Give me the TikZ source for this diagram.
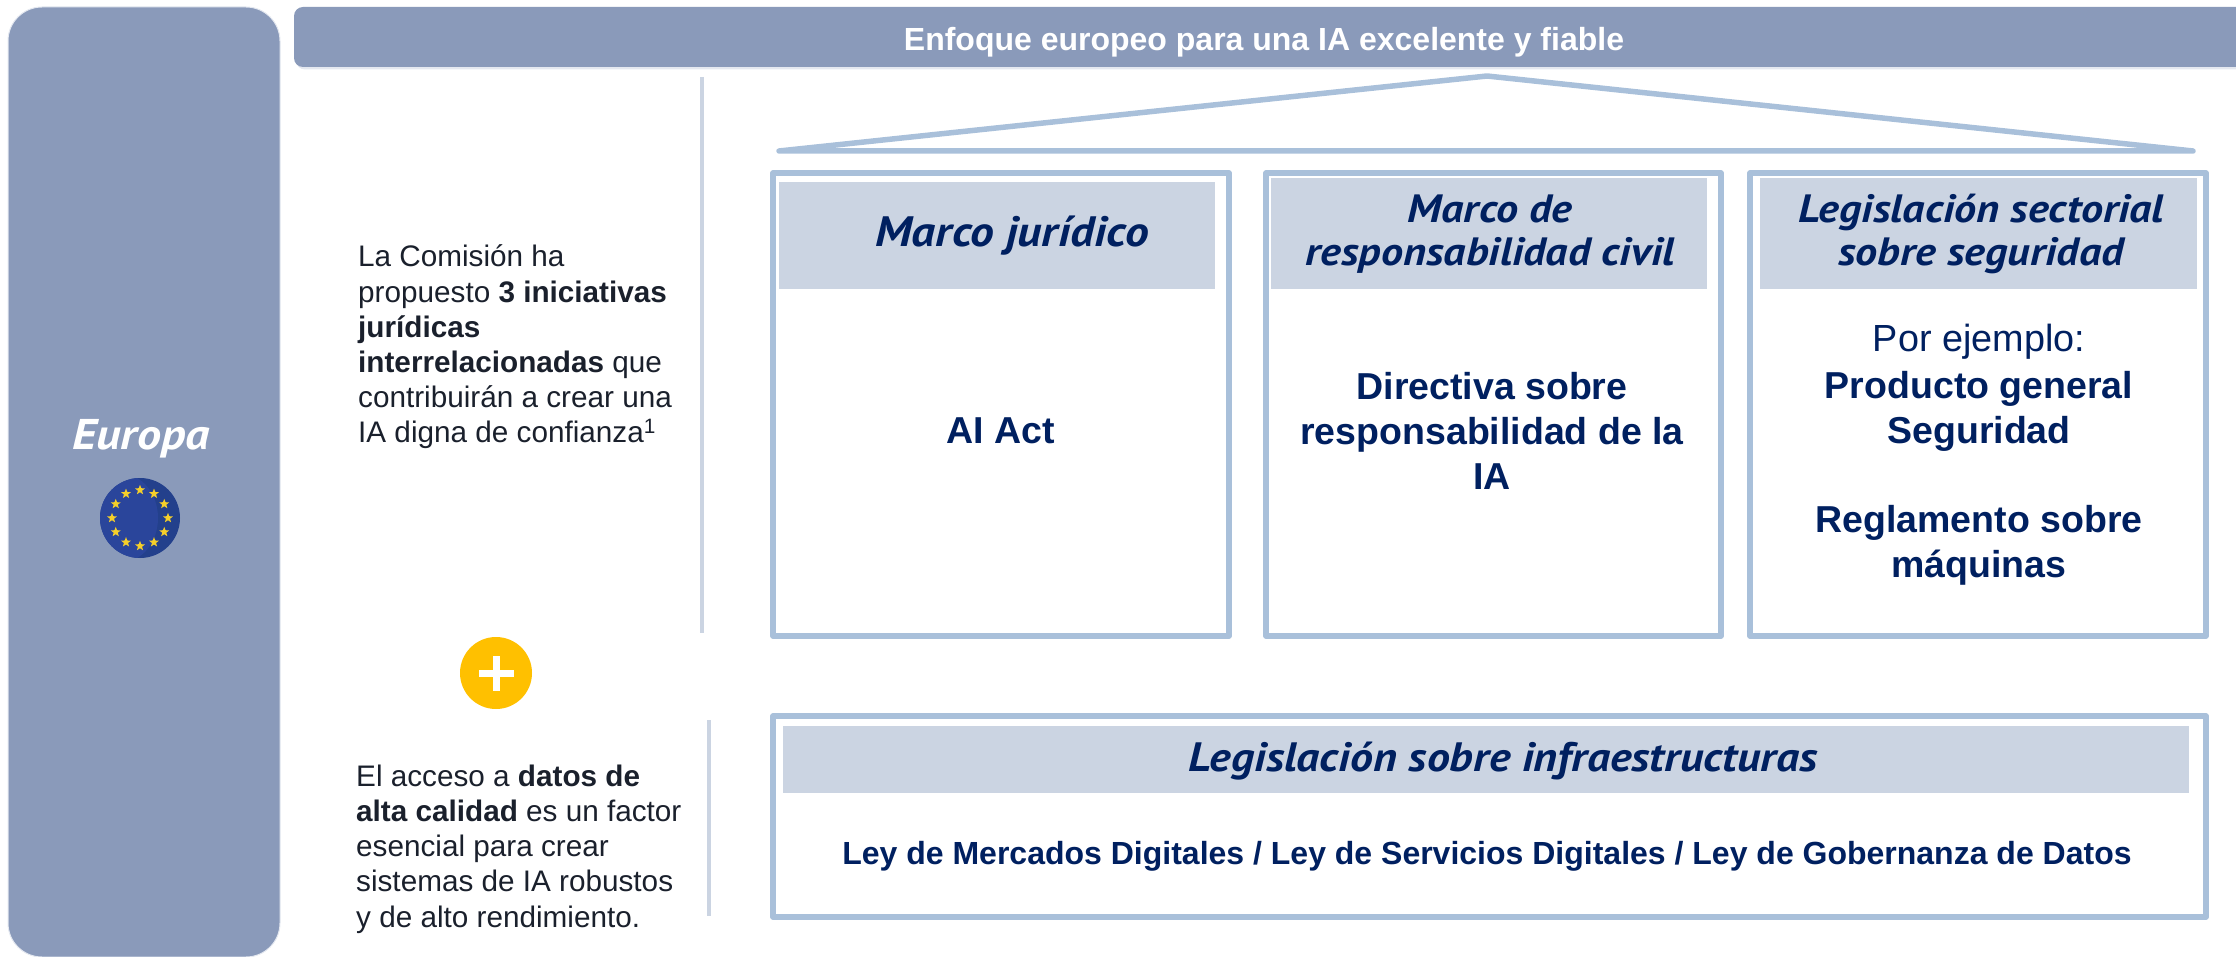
\documentclass[tikz,border=0pt]{standalone}
\usepackage{fontspec}
\setmainfont{Liberation Sans}
\newfontfamily\handfont[FakeStretch=1.12]{PT Sans}
\usetikzlibrary{shapes.geometric}
\definecolor{panel}{HTML}{8A9ABA}
\definecolor{panelEdge}{HTML}{E4E8F0}
\definecolor{boxline}{HTML}{A9C0DA}
\definecolor{headfill}{HTML}{CBD4E2}
\definecolor{navy}{HTML}{002060}
\definecolor{bodyink}{HTML}{1A202C}
\definecolor{plusyellow}{HTML}{FFC000}
\definecolor{flagdark}{HTML}{23408C}
\definecolor{flaglight}{HTML}{2A459B}
\definecolor{starcol}{HTML}{F5CF2A}
\tikzset{
  framebox/.style={draw=boxline,line width=5.5pt,line join=round,fill=white},
  headbox/.style={fill=headfill},
  vrule/.style={draw=headfill,line width=4.5pt},
  hand/.style={font=\fontsize{39.5}{43}\selectfont\handfont\bfseries\itshape,text=navy,align=center,inner sep=0pt},
  handbig/.style={hand,font=\fontsize{41}{43}\selectfont\handfont\bfseries\itshape},
  handbigger/.style={hand,font=\fontsize{42.5}{43}\selectfont\handfont\bfseries\itshape},
  mainbold/.style={font=\fontsize{37.5}{45}\selectfont\bfseries,text=navy,align=center,inner sep=0pt},
  bodytxt/.style={font=\fontsize{29.7}{35.2}\selectfont,text=bodyink,align=left,inner sep=0pt,anchor=west},
  euro/.style={star,star points=5,star point ratio=2.4,fill=starcol,inner sep=0pt,minimum size=10.5pt}
}
\begin{document}
\begin{tikzpicture}[x=1pt,y=-1pt]
\useasboundingbox (0,0) rectangle (2236,957);
% left panel
\draw[draw=panelEdge,line width=1pt,fill=panel,rounded corners=34pt] (8,7) rectangle (280,957);
\node[font=\fontsize{43}{50}\selectfont\handfont\bfseries\itshape,text=white,inner sep=0pt] (europa) at (141,439) {Europa};
% flag
\fill[flagdark] (140,518) circle (40);
\begin{scope}
  \clip (140,518) circle (40);
  \fill[flaglight] (122,518) circle (36 and 44);
\end{scope}
\foreach \a in {0,30,...,330}
  \node[euro] at ({140+28*cos(\a)},{518+28*sin(\a)}) {};
% top bar
\fill[panelEdge,rounded corners=9pt] (296,12) rectangle (2246,69.5);
\fill[panel,rounded corners=9pt] (294,7) rectangle (2246,67);
\node[font=\fontsize{32}{36}\selectfont\bfseries,text=white,inner sep=0pt] (title) at (1264,42) {Enfoque europeo para una IA excelente y fiable};
% roof
\draw[draw=boxline,line width=5.5pt,line join=round,line cap=round] (779,151) -- (1487,76) -- (2193,151) -- cycle;
% vertical rules
\draw[vrule] (702,77) -- (702,633);
\draw[vrule] (709,720) -- (709,916);
% boxes
\draw[framebox] (773,173) rectangle (1229,636);
\draw[framebox] (1266,173) rectangle (1721,636);
\draw[framebox] (1750,173) rectangle (2206,636);
\draw[framebox] (773,716) rectangle (2206,917);
\fill[headbox] (779,182) rectangle (1215,289);
\fill[headbox] (1271,178) rectangle (1707,289);
\fill[headbox] (1760,178) rectangle (2197,289);
\fill[headbox] (783,726) rectangle (2189,793);
% headers
\node[handbigger] (h1) at (1012,236) {Marco jurídico};
\node[hand] (h2) at (1490,234) {Marco de\\responsabilidad civil};
\node[hand] (h3) at (1981,234) {Legislación sectorial\\sobre seguridad};
\node[handbig] (h4) at (1503,761) {Legislación sobre infraestructuras};
% contents
\node[mainbold] (c1) at (1001,431) {AI Act};
\node[mainbold] (c2) at (1492,431) {Directiva sobre\\responsabilidad de la\\IA};
\node[font=\fontsize{37.8}{45}\selectfont,text=navy,inner sep=0pt] (c3a) at (1979,342) {Por ejemplo:};
\node[mainbold] (c3b) at (1979,411) {Producto general\\Seguridad};
\node[mainbold] (c3c) at (1979,545) {Reglamento sobre\\máquinas};
\node[font=\fontsize{32}{36}\selectfont\bfseries,text=navy,inner sep=0pt] (c4) at (1487,856) {Ley de Mercados Digitales / Ley de Servicios Digitales / Ley de Gobernanza de Datos};
% side text
\node[bodytxt] (t1) at (358,347) {La Comisión ha\\propuesto \textbf{3 iniciativas}\\\textbf{jurídicas}\\\textbf{interrelacionadas} que\\contribuirán a crear una\\IA digna de confianza\textsuperscript{1}};
\node[bodytxt] (t2) at (356,849) {El acceso a \textbf{datos de}\\\textbf{alta calidad} es un factor\\esencial para crear\\sistemas de IA robustos\\y de alto rendimiento.};
% plus
\node[circle,fill=plusyellow,minimum size=72pt,inner sep=0pt] (plus) at (496,673) {};
\fill[white] (478.5,669.5) rectangle (513.5,676.5);
\fill[white] (492.5,655.5) rectangle (499.5,690.5);
\end{tikzpicture}
\end{document}
